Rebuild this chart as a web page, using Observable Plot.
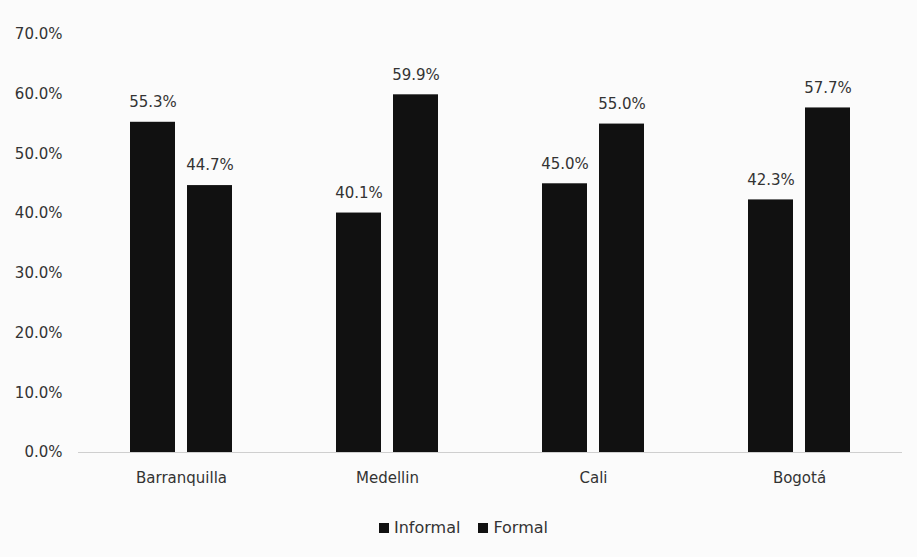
<!DOCTYPE html>
<html>
<head>
<meta charset="utf-8">
<script src="https://cdn.jsdelivr.net/npm/d3@7"></script>
<script src="https://cdn.jsdelivr.net/npm/@observablehq/plot@0.6"></script>
<style>
  html, body { margin: 0; padding: 0; background: #fbfbfb; }
  #chart { width: 917px; font-family: "DejaVu Sans", sans-serif; color: #333; }
  .legend { display: flex; justify-content: center; gap: 18px; font-size: 16px; line-height: 19px; color: #333; margin-top: 18px; padding-left: 10px; }
  .legend span { display: inline-flex; align-items: center; }
  .legend i { display: inline-block; width: 10px; height: 10px; background: #111; margin-right: 5px; }
</style>
</head>
<body>
<div id="chart"></div>
<script>
const cities = ["Barranquilla", "Medellin", "Cali", "Bogotá"];
const series = ["Informal", "Formal"];
const informal = [0.553, 0.401, 0.450, 0.423];
const formal = [0.447, 0.599, 0.550, 0.577];
const yTicks = [0, 0.1, 0.2, 0.3, 0.4, 0.5, 0.6, 0.7];

const data = [];
cities.forEach((c, i) => {
  data.push({city: c, series: "Informal", value: informal[i]});
  data.push({city: c, series: "Formal", value: formal[i]});
});

const fmt = d3.format(".1%");

const plot = Plot.plot({
  width: 917,
  height: 500,
  marginLeft: 78,
  marginRight: 15,
  marginTop: 34,
  marginBottom: 48,
  style: {background: "transparent", fontFamily: "'DejaVu Sans', sans-serif", fontSize: "15px", color: "#333"},
  fx: {domain: cities, padding: 0, label: null, axis: "bottom", tickSize: 0, tickPadding: 20, fontSize: 16},
  x: {domain: series, paddingInner: 0.207, paddingOuter: 0.88, axis: null},
  y: {domain: [0, 0.7], ticks: yTicks, tickFormat: fmt, label: null, tickSize: 0, tickPadding: 16},
  color: {domain: series, range: ["#111111", "#111111"]},
  marks: [
    Plot.ruleY([0], {stroke: "#cfcfcf", strokeWidth: 1}),
    Plot.barY(data, {fx: "city", x: "series", y: "value", fill: "series"}),
    Plot.text(data, {fx: "city", x: "series", y: "value", text: d => fmt(d.value), dy: -20, fill: "#333", fontSize: 15})
  ]
});

document.getElementById("chart").appendChild(plot);
const legend = document.createElement("div");
legend.className = "legend";
series.forEach(s => {
  const sp = document.createElement("span");
  sp.innerHTML = `<i></i>${s}`;
  legend.appendChild(sp);
});
document.getElementById("chart").appendChild(legend);
</script>
</body>
</html>
